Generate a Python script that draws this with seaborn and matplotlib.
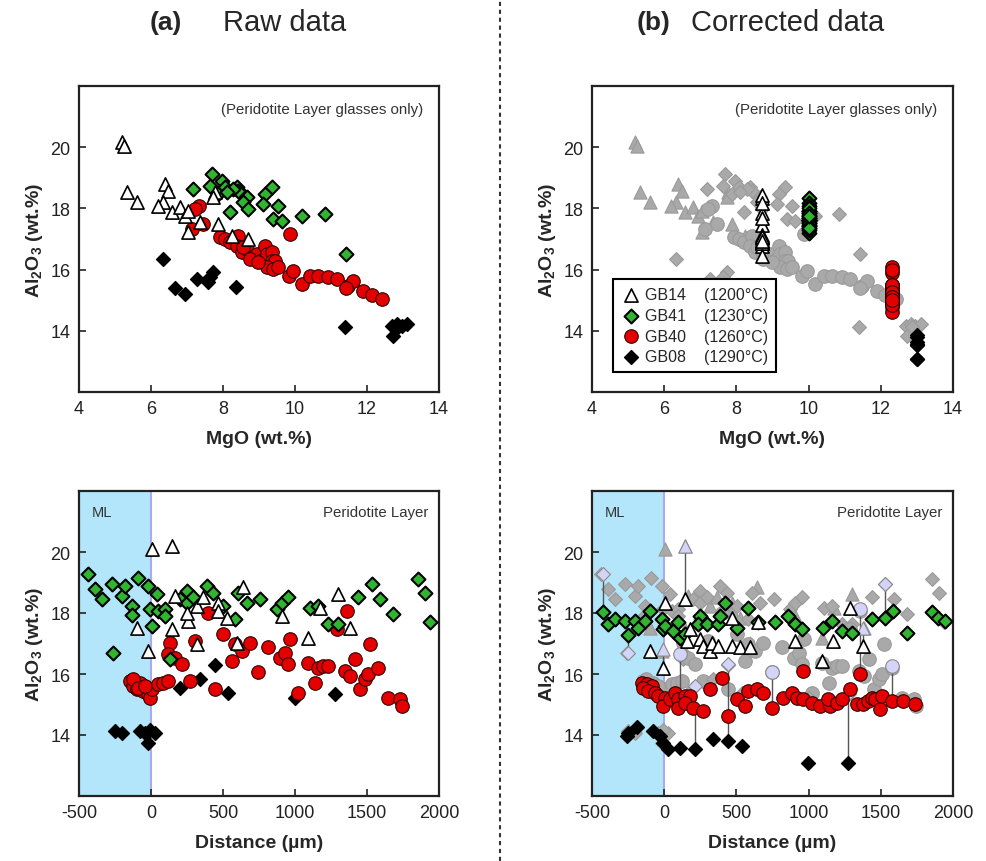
import numpy as np
import matplotlib
matplotlib.use("Agg")
import matplotlib.pyplot as plt
from matplotlib.lines import Line2D
import seaborn as sns

sns.set_style("white")
plt.rcParams['font.family'] = ['Liberation Sans', 'DejaVu Sans']
plt.rcParams['mathtext.fontset'] = 'custom'
plt.rcParams['mathtext.rm'] = 'Liberation Sans:bold'
plt.rcParams['mathtext.default'] = 'rm'
plt.rcParams['axes.unicode_minus'] = False

# ---- raw data, MgO vs Al2O3 (peridotite layer glasses) ----
mgo14 = [5.2, 5.25, 5.32, 5.6, 6.39, 6.48, 6.34, 6.2, 6.57, 6.81, 6.94, 7.04, 7.36, 7.04, 7.87, 7.78, 7.73, 8.24, 8.7]
al14 = [20.16, 20.05, 18.53, 18.2, 18.8, 18.58, 18.2, 18.09, 17.87, 18.04, 17.76, 17.93, 17.54, 17.22, 17.49, 18.53, 18.36, 17.11, 17.0]

mgo41 = [7.69, 7.64, 7.18, 7.96, 8.06, 7.87, 8.38, 8.52, 8.43, 8.66, 8.56, 8.7, 8.2, 9.35, 9.17, 9.12, 9.54, 9.4, 9.63,
         10.19, 10.83, 11.43, 8.29, 8.1]
al41 = [19.13, 18.74, 18.63, 18.91, 18.69, 18.47, 18.69, 18.47, 18.58, 18.36, 18.2, 17.98, 17.87, 18.69, 18.47, 18.14,
        18.09, 17.65, 17.6, 17.76, 17.82, 16.51, 18.63, 18.53]

mgo40 = [7.32, 7.22, 7.45, 7.13, 9.86, 7.92, 8.06, 8.2, 8.43, 8.38, 8.52, 8.66, 8.8, 8.94, 9.03, 9.17, 9.21, 9.35, 9.35,
         9.44, 9.21, 9.4, 9.54, 9.82, 9.95, 10.19, 10.42, 10.65, 10.93, 11.16, 11.48, 11.62, 11.43, 11.9, 12.13, 12.41,
         8.75, 8.56, 8.98]
al40 = [18.09, 17.98, 17.49, 17.33, 17.16, 17.05, 17.0, 16.89, 17.11, 16.78, 16.56, 16.67, 16.4, 16.51, 16.29, 16.78,
        16.51, 16.56, 16.29, 16.29, 16.07, 16.02, 16.07, 15.8, 15.96, 15.53, 15.8, 15.8, 15.75, 15.69, 15.47, 15.64,
        15.39, 15.31, 15.17, 15.04, 16.35, 16.73, 16.24]

mgo08 = [6.34, 6.67, 6.95, 7.27, 7.59, 7.73, 7.64, 8.36, 11.39, 12.69, 12.83, 12.96, 13.1, 12.73, 12.87]
al08 = [16.35, 15.39, 15.2, 15.69, 15.58, 15.91, 15.75, 15.42, 14.11, 14.17, 14.22, 14.17, 14.22, 13.82, 14.11]

# ---- raw data, distance profiles ----
d14 = [5, 144, -99, -18, 167, 259, 248, 317, 364, 468, 468, 525, 641, 595, 317, 907, 1093, 1174, 1301, 1382, 144]
a14 = [20.1, 20.2, 17.52, 16.76, 18.56, 17.74, 18.01, 18.23, 18.51, 18.34, 18.07, 17.85, 18.84, 17.03, 16.97, 17.9,
       17.19, 18.18, 18.62, 17.52, 17.47]

d41 = [-440, -389, -343, -273, -261, -204, -181, -134, -134, -88, -18, 39, -7, 4, 51, 97, 97, 132, 201, 248, 248, 294,
       387, 433, 502, 583, 606, 664, 757, 873, 907, 954, 1104, 1162, 1232, 1301, 1440, 1532, 1590, 1683, 1857, 1903, 1938]
a41 = [19.27, 18.78, 18.45, 18.95, 16.7, 18.56, 18.89, 18.23, 17.93, 19.16, 18.89, 18.62, 18.12, 17.58, 18.07, 18.12,
       17.9, 16.48, 18.45, 18.73, 18.34, 18.51, 18.89, 18.67, 18.23, 17.8, 18.67, 18.34, 18.45, 18.12, 18.34, 18.51,
       18.18, 18.23, 17.63, 17.63, 18.51, 18.95, 18.45, 17.96, 19.11, 18.67, 17.69]

d40 = [-146, -123, -99, -76, -53, -18, -7, 5, -123, -88, -42, 51, 86, 120, 271, 132, 120, 167, 213, 306, 398, 445, 502,
       560, 583, 630, 687, 745, 815, 896, 931, 954, 966, 1023, 1093, 1139, 1162, 1197, 1232, 1290, 1359, 1347, 1382,
       1417, 1452, 1486, 1509, 1521, 1579, 1649, 1730, 1741]
a40 = [15.77, 15.61, 15.5, 15.72, 15.44, 15.33, 15.22, 15.5, 15.83, 15.55, 15.61, 15.66, 15.72, 15.77, 15.77, 17.03,
       16.65, 16.54, 16.32, 17.09, 18.01, 15.5, 17.3, 16.43, 16.97, 16.76, 17.03, 16.05, 16.87, 16.54, 16.7, 16.32,
       17.14, 15.39, 16.37, 15.72, 16.21, 16.27, 16.27, 17.47, 18.07, 16.1, 15.93, 16.48, 15.5, 15.83, 16.0, 16.97,
       16.21, 15.22, 15.17, 14.95]

d08 = [-250, -204, -76, -42, -18, 28, -7, 201, 340, 445, 537, 1000, 1278]
a08 = [14.13, 14.07, 14.13, 14.07, 13.75, 14.07, 14.18, 15.55, 15.83, 16.29, 15.37, 15.22, 15.33]

# ---- corrected data, distance profiles ----
c14_d = [5, 144, -98, -6, 155, 179, 248, 271, 317, 329, 375, 467, 467, 525, 594, 652, 905, 1090, 1171, 1286, 1374]
c14_a = [18.34, 18.45, 16.76, 16.21, 17.08, 17.47, 17.14, 16.92, 16.76, 17.03, 16.92, 17.85, 16.92, 16.87, 16.87,
         17.69, 17.08, 16.43, 17.08, 18.18, 16.92]

c41_d = [-421, -387, -341, -271, -248, -202, -179, -133, -98, -18, -6, 5, 63, 98, 109, 144, 248, 236, 294, 375, 386,
         421, 502, 582, 652, 767, 859, 905, 952, 1102, 1159, 1229, 1298, 1437, 1529, 1587, 1679, 1852, 1898, 1944]
c41_a = [18.02, 17.63, 17.8, 17.74, 17.28, 17.74, 17.52, 17.74, 18.07, 17.8, 17.47, 17.58, 17.41, 17.69, 17.19, 17.3,
         17.91, 17.63, 17.63, 17.63, 17.91, 18.34, 17.52, 18.18, 17.69, 17.69, 17.91, 17.63, 17.47, 17.52, 17.74,
         17.41, 17.36, 17.8, 17.85, 18.07, 17.36, 18.02, 17.85, 17.74]

c40_d = [-156, -121, -87, -145, -110, -64, -41, 5, -6, 40, 75, 98, 98, 144, 179, 144, 202, 271, 317, 398, 444, 502,
         559, 582, 640, 686, 744, 825, 882, 917, 963, 963, 1021, 1079, 1148, 1136, 1194, 1229, 1286, 1356, 1332, 1379,
         1413, 1436, 1460, 1494, 1506, 1575, 1656, 1736]
c40_a = [15.72, 15.66, 15.61, 15.55, 15.44, 15.39, 15.28, 15.22, 14.95, 15.17, 15.39, 15.17, 14.9, 15.28, 15.28, 15.06,
         14.9, 14.79, 15.5, 15.88, 14.62, 15.17, 14.95, 15.44, 15.5, 15.39, 14.9, 15.22, 15.39, 15.22, 16.1, 15.17,
         15.06, 14.95, 14.95, 15.17, 15.06, 15.17, 15.5, 16.0, 15.01, 15.01, 15.11, 15.22, 15.17, 14.84, 15.28, 15.11,
         15.11, 15.01]

c08_d = [-260, -249, -190, -75, -29, -6, 28, 109, 213, 340, 444, 537, 998, 1275]
c08_a = [13.96, 14.07, 14.25, 14.13, 13.96, 13.75, 13.53, 13.56, 13.53, 13.86, 13.8, 13.64, 13.09, 13.09]

# corrected MgO of each experiment (GB14, GB41, GB40, GB08)
cor_mgo = [8.7, 10.0, 12.3, 13.0]

# raw points with large corrections (raw -> corrected)
hl_dia_d = [-426, -249, 213, 444, 1275, 1529]
hl_dia_raw = [19.27, 16.7, 15.6, 16.32, 15.33, 18.95]
hl_dia_cor = [18.02, 17.28, 13.53, 13.8, 13.09, 17.85]
hl_tri_d = [-6, 144, 1374]
hl_tri_raw = [16.81, 20.2, 17.52]
hl_tri_cor = [16.21, 18.45, 16.92]
hl_cir_d = [109, 744, 1356, 1575]
hl_cir_raw = [16.65, 16.05, 18.12, 16.26]
hl_cir_cor = [15.28, 14.9, 16.0, 15.06]

labels = ['GB14    (1200°C)', 'GB41    (1230°C)', 'GB40    (1260°C)', 'GB08    (1290°C)']

# marker styles
st14 = dict(marker='^', s=90, color='white', edgecolor='black', linewidth=1.2)
st41 = dict(marker='D', s=50, color='#2fb52f', edgecolor='black', linewidth=1.5)
st40 = dict(marker='o', s=95, color='#e50000', edgecolor='#330000', linewidth=0.8)
st08 = dict(marker='D', s=50, color='black', edgecolor='black', linewidth=1.0)
gray = dict(color='#a9a9a9', edgecolor='#9a9a9a', linewidth=0.8)
lav = dict(color='#d4d4fa', edgecolor='#8a8a8a', linewidth=0.8)


def style(ax, xlim, xticks, xlabel):
    ax.set_xlim(xlim)
    ax.set_ylim(12, 22)
    ax.set_xticks(xticks)
    ax.set_yticks([14, 16, 18, 20])
    ax.tick_params(direction='in', length=5, width=1.2, labelsize=13, pad=6,
                   bottom=True, left=True, top=False, right=False, colors='#222222')
    for sp in ax.spines.values():
        sp.set_linewidth(1.6)
        sp.set_color('#222222')
    ax.set_xlabel(xlabel, fontsize=14, fontweight='bold', labelpad=9)
    ax.set_ylabel('Al$_2$O$_3$ (wt.%)', fontsize=14, fontweight='bold', labelpad=4)


fig = plt.figure(figsize=(9.87, 8.62), dpi=100)
ax_tl = fig.add_axes([79 / 987, 1 - 393 / 862, 360 / 987, 306 / 862])
ax_tr = fig.add_axes([592 / 987, 1 - 393 / 862, 361 / 987, 306 / 862])
ax_bl = fig.add_axes([79 / 987, 1 - 797 / 862, 360 / 987, 305 / 862])
ax_br = fig.add_axes([592 / 987, 1 - 797 / 862, 361 / 987, 305 / 862])

# (a) raw, MgO
sns.scatterplot(x=mgo08, y=al08, ax=ax_tl, zorder=3, **st08)
sns.scatterplot(x=mgo40, y=al40, ax=ax_tl, zorder=3, **st40)
sns.scatterplot(x=mgo41, y=al41, ax=ax_tl, zorder=3, **st41)
sns.scatterplot(x=mgo14, y=al14, ax=ax_tl, zorder=3, **st14)

# (b) corrected, MgO: raw in gray, corrected at experiment MgO (distance > 0 only)
for xs, ys, st in [(mgo14, al14, st14), (mgo41, al41, st41), (mgo40, al40, st40), (mgo08, al08, st08)]:
    sns.scatterplot(x=xs, y=ys, ax=ax_tr, zorder=2, marker=st['marker'], s=st['s'], **gray)
for dd, aa, st, m, lab in [(c14_d, c14_a, st14, cor_mgo[0], labels[0]),
                           (c41_d, c41_a, st41, cor_mgo[1], labels[1]),
                           (c40_d, c40_a, st40, cor_mgo[2], labels[2]),
                           (c08_d, c08_a, st08, cor_mgo[3], labels[3])]:
    yy = np.array(aa)[np.array(dd) > 0]
    sns.scatterplot(x=np.full(len(yy), m), y=yy, ax=ax_tr, zorder=3, label=lab, **st)

# (a) raw, distance
sns.scatterplot(x=d08, y=a08, ax=ax_bl, zorder=3, **st08)
sns.scatterplot(x=d40, y=a40, ax=ax_bl, zorder=3, **st40)
sns.scatterplot(x=d41, y=a41, ax=ax_bl, zorder=3, **st41)
sns.scatterplot(x=d14, y=a14, ax=ax_bl, zorder=3, **st14)

# (b) corrected, distance
for xs, ys, st in [(d14, a14, st14), (d41, a41, st41), (d40, a40, st40), (d08, a08, st08)]:
    sns.scatterplot(x=xs, y=ys, ax=ax_br, zorder=2, marker=st['marker'], s=st['s'], **gray)
for hd, hr, hc, st in [(hl_dia_d, hl_dia_raw, hl_dia_cor, st41), (hl_tri_d, hl_tri_raw, hl_tri_cor, st14),
                       (hl_cir_d, hl_cir_raw, hl_cir_cor, st40)]:
    ax_br.vlines(hd, hr, hc, color='#555555', lw=1.0, zorder=2.5)
    sns.scatterplot(x=hd, y=hr, ax=ax_br, zorder=2.6, marker=st['marker'], s=st['s'], **lav)
sns.scatterplot(x=c08_d, y=c08_a, ax=ax_br, zorder=3, **st08)
sns.scatterplot(x=c40_d, y=c40_a, ax=ax_br, zorder=3, **st40)
sns.scatterplot(x=c41_d, y=c41_a, ax=ax_br, zorder=3, **st41)
sns.scatterplot(x=c14_d, y=c14_a, ax=ax_br, zorder=3, **st14)

for ax in [ax_tl, ax_tr]:
    style(ax, (4, 14), [4, 6, 8, 10, 12, 14], 'MgO (wt.%)')
    ax.text(0.956, 0.925, '(Peridotite Layer glasses only)', transform=ax.transAxes,
            ha='right', va='center', fontsize=10.8, color='#333333')
for ax in [ax_bl, ax_br]:
    ax.axvspan(-500, 0, color='#b3e6fa', zorder=0, lw=0)
    ax.axvline(0, color='#aaaaee', lw=1.5, zorder=0.5)
    style(ax, (-500, 2000), [-500, 0, 500, 1000, 1500, 2000], 'Distance (µm)')
    ax.text(0.036, 0.93, 'ML', transform=ax.transAxes, ha='left', va='center', fontsize=10.5, color='#333333')
    ax.text(0.97, 0.93, 'Peridotite Layer', transform=ax.transAxes, ha='right', va='center',
            fontsize=10.8, color='#333333')

leg = ax_tr.legend(loc='lower left', bbox_to_anchor=(0.058, 0.065), borderaxespad=0, frameon=True,
                   fancybox=False, edgecolor='black', framealpha=1, fontsize=11.5, handletextpad=0.3,
                   borderpad=0.5, labelspacing=0.35, handlelength=1.2)
leg.get_frame().set_linewidth(1.5)

# titles and separator
narrow = ['Liberation Sans Narrow', 'Liberation Sans', 'DejaVu Sans']
fig.text(0.168, 0.973, '(a)', fontsize=19, fontweight='bold', ha='center', va='center', family=narrow)
fig.text(0.288, 0.973, 'Raw data', fontsize=21, ha='center', va='center', family=narrow)
fig.text(0.662, 0.973, '(b)', fontsize=19, fontweight='bold', ha='center', va='center', family=narrow)
fig.text(0.798, 0.973, 'Corrected data', fontsize=21, ha='center', va='center', family=narrow)
fig.add_artist(Line2D([500 / 987, 500 / 987], [0, 1], transform=fig.transFigure, color='#333333',
                      lw=1.5, linestyle=(0, (2, 1.8))))

fig.savefig('out.png', dpi=100)
